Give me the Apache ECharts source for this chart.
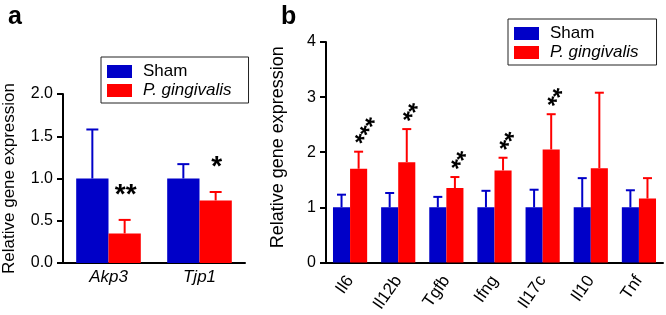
<!DOCTYPE html>
<html>
<head>
<meta charset="utf-8">
<script src="https://cdn.jsdelivr.net/npm/echarts@6/dist/echarts.min.js"></script>
<style>
  html, body { margin: 0; padding: 0; background: #fff; }
  #chart { width: 666px; height: 315px; }
</style>
</head>
<body>
<div id="chart"></div>
<script>
// panel a
const genesA = ['Akp3', 'Tjp1']
const shamA = [1.0, 1.0]
const shamTopA = [1.58, 1.17]
const pgA = [0.35, 0.74]
const pgTopA = [0.51, 0.84]
const starsA = ['**', '*']
const yMaxA = 2
const yStepA = 0.5

// panel b
const genesB = ['Il6', 'Il12b', 'Tgfb', 'Ifng', 'Il17c', 'Il10', 'Tnf']
const shamB = [1, 1, 1, 1, 1, 1, 1]
const shamTopB = [1.23, 1.26, 1.19, 1.30, 1.32, 1.53, 1.31]
const pgB = [1.70, 1.82, 1.35, 1.67, 2.05, 1.71, 1.16]
const pgTopB = [2.01, 2.42, 1.55, 1.90, 2.69, 3.08, 1.53]
const starsB = ['***', '**', '**', '**', '**', '', '']
const yMaxB = 4
const yStepB = 1

const BLUE = '#0000c8'
const RED = '#ff0000'
const FONT = 'Liberation Sans, Arial, sans-serif'
const BAR_FRAC = 0.355

function errSeries(axis, vals, tops, stars, color, side, cap, star) {
  return {
    type: 'custom',
    xAxisIndex: axis,
    yAxisIndex: axis,
    silent: true,
    z: 1,
    data: tops.map((t, i) => [i, vals[i], t, stars ? stars[i] : '']),
    encode: { x: 0, y: 2 },
    renderItem(params, api) {
      const i = api.value(0)
      const band = api.size([1, 0])[0]
      const p0 = api.coord([i, api.value(1)])
      const p1 = api.coord([i, api.value(2)])
      const cx = p0[0] + side * band * BAR_FRAC / 2
      const style = { stroke: color, lineWidth: 2 }
      const kids = [
        { type: 'line', shape: { x1: cx, y1: p0[1], x2: cx, y2: p1[1] }, style },
        { type: 'line', shape: { x1: cx - cap / 2, y1: p1[1], x2: cx + cap / 2, y2: p1[1] }, style }
      ]
      const s = api.value(3)
      if (s && star) {
        kids.push({
          type: 'text',
          x: cx + star.dx,
          y: p1[1] - star.dy,
          rotation: star.rot,
          style: {
            text: s, fill: '#000', font: 'bold ' + star.size + 'px ' + FONT,
            align: star.align, verticalAlign: 'middle'
          }
        })
      }
      return { type: 'group', children: kids }
    }
  }
}

function legendFor(left, top, padRight) {
  return {
    data: ['Sham', 'P. gingivalis'],
    orient: 'vertical',
    left, top,
    icon: 'rect',
    itemWidth: 25,
    itemHeight: 13,
    itemGap: 2,
    padding: [6, padRight, 4, 6],
    borderColor: '#222',
    borderWidth: 1,
    selectedMode: false,
    formatter: n => n === 'P. gingivalis' ? '{i|' + n + '}' : n,
    textStyle: {
      color: '#000', fontSize: 17, fontFamily: FONT, padding: [0, 0, 0, 6],
      rich: { i: { fontStyle: 'italic', fontSize: 17, fontFamily: FONT, color: '#000' } }
    }
  }
}

const axisLine = { show: true, lineStyle: { color: '#000', width: 2 } }
const axisTick = { show: true, length: 6, lineStyle: { width: 2, color: '#000' } }

const chart = echarts.init(document.getElementById('chart'), null, { renderer: 'canvas' })
chart.setOption({
  animation: false,
  textStyle: { fontFamily: FONT },
  title: [
    { text: 'a', left: 3, top: 0, textStyle: { fontSize: 25, fontWeight: 'bold', color: '#000', fontFamily: FONT } },
    { text: 'b', left: 276, top: 0, textStyle: { fontSize: 25, fontWeight: 'bold', color: '#000', fontFamily: FONT } }
  ],
  legend: [legendFor(101, 57, 17), legendFor(508, 19, 18)],
  grid: [
    { left: 58, top: 94, width: 187, height: 169 },
    { left: 326, top: 42, width: 337, height: 221 }
  ],
  xAxis: [
    {
      type: 'category', gridIndex: 0, data: genesA,
      axisLine, axisTick: { show: false },
      axisLabel: { color: '#000', fontSize: 17, fontStyle: 'italic', margin: 6 }
    },
    {
      type: 'category', gridIndex: 1, data: genesB,
      axisLine, axisTick: { show: false },
      axisLabel: { color: '#000', fontSize: 17, rotate: 55, margin: 15, interval: 0 }
    }
  ],
  yAxis: [
    {
      type: 'value', gridIndex: 0, min: 0, max: yMaxA, interval: yStepA,
      name: 'Relative gene expression', nameLocation: 'middle', nameGap: 45,
      nameMoveOverlap: false,
      nameTextStyle: { color: '#000', fontSize: 17 },
      axisLine, axisTick,
      splitLine: { show: false },
      axisLabel: { color: '#000', fontSize: 16, margin: 10, formatter: v => v.toFixed(1) }
    },
    {
      type: 'value', gridIndex: 1, min: 0, max: yMaxB, interval: yStepB,
      name: 'Relative gene expression', nameLocation: 'middle', nameGap: 39,
      nameMoveOverlap: false,
      nameTextStyle: { color: '#000', fontSize: 18, padding: [0, 0, 0, 10] },
      axisLine, axisTick,
      splitLine: { show: false },
      axisLabel: { color: '#000', fontSize: 16, margin: 10 }
    }
  ],
  series: [
    { type: 'bar', name: 'Sham', xAxisIndex: 0, yAxisIndex: 0, data: shamA, itemStyle: { color: BLUE }, barGap: '0%', barCategoryGap: '29%', z: 2 },
    { type: 'bar', name: 'P. gingivalis', xAxisIndex: 0, yAxisIndex: 0, data: pgA, itemStyle: { color: RED }, barGap: '0%', barCategoryGap: '29%', z: 2 },
    { type: 'bar', name: 'Sham', xAxisIndex: 1, yAxisIndex: 1, data: shamB, itemStyle: { color: BLUE }, barGap: '0%', barCategoryGap: '29%', z: 2 },
    { type: 'bar', name: 'P. gingivalis', xAxisIndex: 1, yAxisIndex: 1, data: pgB, itemStyle: { color: RED }, barGap: '0%', barCategoryGap: '29%', z: 2 },
    errSeries(0, shamA, shamTopA, null, BLUE, -1, 12),
    errSeries(0, pgA, pgTopA, starsA, RED, 1, 12, { dx: 1, dy: 25, rot: 0, size: 28, align: 'center' }),
    errSeries(1, shamB, shamTopB, null, BLUE, -1, 9),
    errSeries(1, pgB, pgTopB, starsB, RED, 1, 9, { dx: 3, dy: 6, rot: 58 * Math.PI / 180, size: 25, align: 'left' })
  ]
})
</script>
</body>
</html>
